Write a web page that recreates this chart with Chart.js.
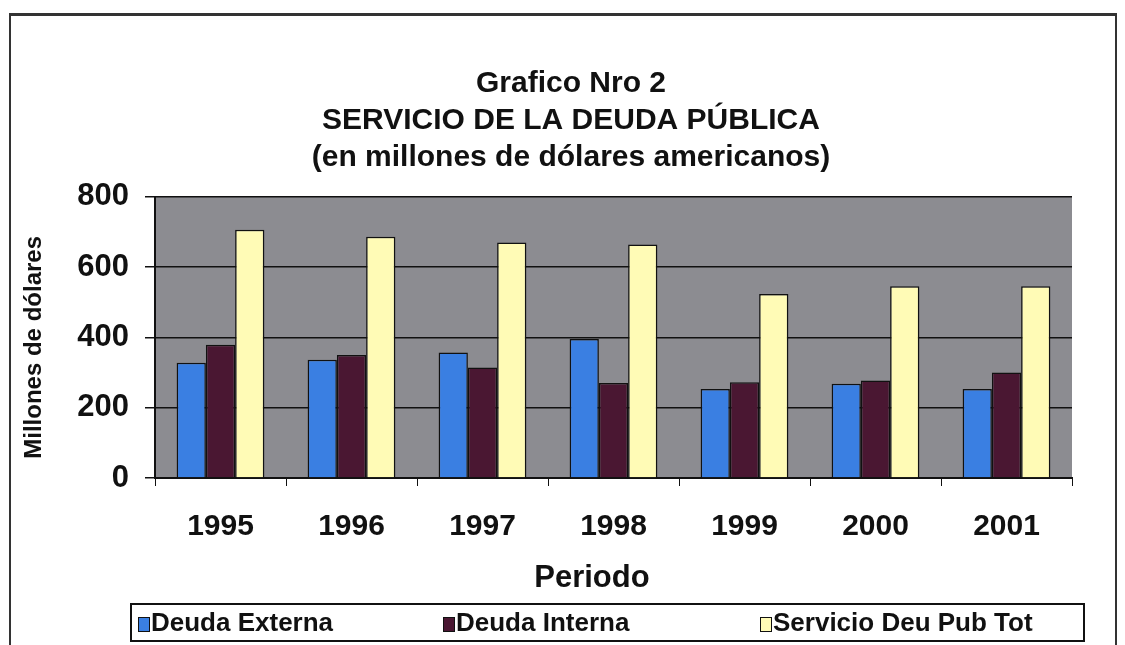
<!DOCTYPE html>
<html>
<head>
<meta charset="utf-8">
<script src="https://cdn.jsdelivr.net/npm/chart.js@4/dist/chart.umd.min.js"></script>
<style>
  html, body { margin: 0; padding: 0; background: #fff; }
  #wrap { position: relative; width: 1125px; height: 645px; overflow: hidden; }
  #frame { position: absolute; left: 9px; top: 13px; width: 1104px; height: 700px;
           border: 2px solid #333; border-top-width: 3px; }
  #c { position: absolute; left: 0; top: 0; }
  #legend { position: absolute; left: 130px; top: 603px; width: 951px; height: 35px;
            border: 2px solid #111; font: bold 26px "Liberation Sans", Arial, sans-serif;
            color: #111; }
  #legend .item { position: absolute; top: 2px; white-space: nowrap; line-height: 31px; }
  #legend .sw { display: inline-block; width: 10px; height: 13px; border: 1px solid #111;
                margin-right: 1px; vertical-align: -1px; }
</style>
</head>
<body>
<div id="wrap">
  <div id="frame"></div>
  <canvas id="c" width="1125" height="645"></canvas>
  <div id="legend"></div>
</div>
<script>
'use strict';

// data
const years = ['1995', '1996', '1997', '1998', '1999', '2000', '2001'];
const deudaExterna = [328, 336, 357, 395, 253, 268, 253];
const deudaInterna = [379, 350, 314, 270, 272, 277, 300];
const servicioTotal = [706, 686, 670, 664, 523, 545, 545];
const yTicks = [0, 200, 400, 600, 800];

const seriesNames = ['Deuda Externa', 'Deuda Interna', 'Servicio Deu Pub Tot'];
const seriesColors = ['#3a7fe2', '#4a1732', '#fffbb6'];

const FONT = '"Liberation Sans", Arial, sans-serif';
const NB = '\u00a0';

// grey plot background
const plotBg = {
  id: 'plotBg',
  beforeDraw(chart) {
    const { ctx, chartArea: a } = chart;
    ctx.save();
    ctx.fillStyle = '#8c8c91';
    ctx.fillRect(a.left, a.top, a.right - a.left, a.bottom - a.top);
    ctx.restore();
  }
};

const ctx = document.getElementById('c').getContext('2d');
new Chart(ctx, {
  type: 'bar',
  data: {
    labels: years,
    datasets: [deudaExterna, deudaInterna, servicioTotal].map((d, i) => ({
      label: seriesNames[i],
      data: d,
      backgroundColor: seriesColors[i],
      borderColor: '#111',
      borderWidth: 1.5,
      categoryPercentage: 0.67,
      barPercentage: 1.0,
    }))
  },
  options: {
    responsive: false,
    animation: false,
    // left padding pushes the title centre to where the original has it
    layout: { padding: { left: 70, right: 53, top: 0, bottom: 48 } },
    plugins: {
      legend: { display: false },
      tooltip: { enabled: false },
      title: {
        display: true,
        text: ['Grafico Nro 2', 'SERVICIO DE LA DEUDA PÚBLICA', '(en millones de dólares americanos)'],
        color: '#111',
        font: { family: FONT, size: 30, weight: 'bold', lineHeight: 1.23 },
        padding: { top: 65, bottom: 21 },
      }
    },
    scales: {
      x: {
        afterFit(s) { s.height = 119; },
        grid: { drawOnChartArea: false, drawTicks: true, tickLength: 8, tickColor: '#111', offset: true },
        border: { color: '#111', width: 2 },
        ticks: { color: '#111', padding: 23, font: { family: FONT, size: 30, weight: 'bold' } },
        title: { display: true, text: 'Periodo' + NB.repeat(5), color: '#111', padding: { top: 0, bottom: 0 },
                 font: { family: FONT, size: 31, weight: 'bold' } }
      },
      y: {
        min: 0, max: 800,
        afterFit(s) { s.width = 85; },
        afterBuildTicks(s) { s.ticks = yTicks.map(v => ({ value: v })); },
        grid: { color: '#111', lineWidth: 1.5, tickLength: 10, tickColor: '#111' },
        border: { color: '#111', width: 2 },
        ticks: { color: '#111', padding: 16, font: { family: FONT, size: 31, weight: 'bold' } },
        title: { display: true, text: 'Millones de dólares' + NB.repeat(3), color: '#111',
                 padding: { top: -50, bottom: 0 },
                 font: { family: FONT, size: 24, weight: 'bold' } }
      }
    }
  },
  plugins: [plotBg]
});

// legend box under the chart
const legendPos = [6, 311, 628];
const legend = document.getElementById('legend');
seriesNames.forEach((name, i) => {
  const it = document.createElement('div');
  it.className = 'item';
  it.style.left = legendPos[i] + 'px';
  it.innerHTML = '<span class="sw" style="background:' + seriesColors[i] + '"></span>' + name;
  legend.appendChild(it);
});
</script>
</body>
</html>
